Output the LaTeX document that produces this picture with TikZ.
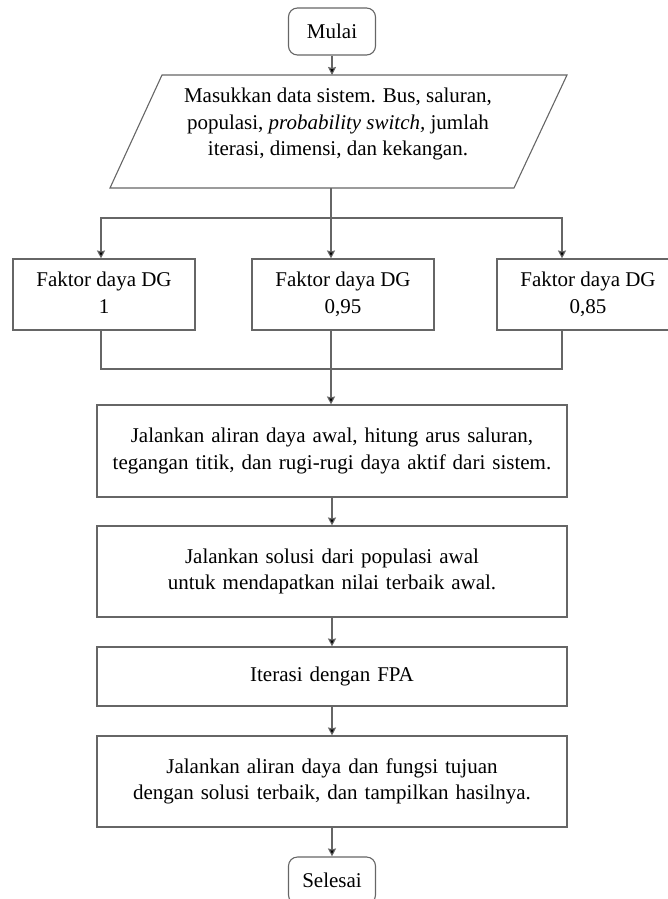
\documentclass[tikz,border=0pt]{standalone}
\usepackage{fontspec}
\setmainfont{Liberation Serif}
\usetikzlibrary{positioning,arrows.meta}
\tikzset{
	garis/.style={draw=black!60, line width=1.1pt},
	panah/.style={garis, -{Stealth[length=8pt,width=8pt,inset=1pt,fill=black]}},
	kotak/.style={garis, minimum width=470, text width=460, align=center, inner sep=0pt, font=\fontsize{21}{26.7}\selectfont},
	faktor/.style={garis, minimum width=182, minimum height=71, align=center, inner sep=0pt, font=\fontsize{21}{26.7}\selectfont},
	terminal/.style={garis, rounded corners=9pt, minimum width=87, minimum height=47, inner sep=0pt, font=\fontsize{21}{24}\selectfont}
}
\begin{document}
\begin{tikzpicture}[x=1pt, y=-1pt]
		\useasboundingbox (0,0) rectangle (668,899);
		\clip (0,0) rectangle (668,899);
		% mulai
		\node[terminal] (mulai) at (332,31.5) {Mulai};
		% masukan data
		\draw[garis] (162,75) -- (567,75) -- (514,188) -- (110,188) -- cycle;
		\node[align=center, inner sep=0pt, font=\fontsize{21}{26.7}\selectfont] (masukan) at (338,124)
			{Masukkan data sistem. Bus, saluran,\\ populasi, \textit{probability switch,} jumlah\\ iterasi, dimensi, dan kekangan.};
		\coordinate (masukanAtas) at (332,75);
		\coordinate (masukanBawah) at (331,188);
		\coordinate (cabang) at (331,218);
		% faktor daya
		\node[faktor] (dg1) at (104,294.5) {Faktor daya DG\\ 1\vphantom{0,}};
		\node[faktor] (dg2) at (343,294.5) {Faktor daya DG\\ 0,95};
		\node[faktor] (dg3) at (588,294.5) {Faktor daya DG\\ 0,85};
		\coordinate (gabung) at (331,369);
		% langkah
		\node[kotak, minimum height=92] (aliran) at (332,451)
			{Jalankan aliran daya awal, hitung arus saluran,\\ tegangan titik, dan rugi-rugi daya aktif dari sistem.};
		\node[kotak, minimum height=91] (solusi) at (332,571.5)
			{Jalankan solusi dari populasi awal\\ untuk mendapatkan nilai terbaik awal.};
		\node[kotak, minimum height=59] (iterasi) at (332,676.5) {Iterasi dengan FPA};
		\node[kotak, minimum height=91] (hasil) at (332,781.5)
			{Jalankan aliran daya dan fungsi tujuan\\ dengan solusi terbaik, dan tampilkan hasilnya.};
		% selesai
		\node[terminal] (selesai) at (332,880.5) {Selesai};

		\draw[panah] (mulai) -- (masukanAtas);
		\draw[garis] (masukanBawah) -- (cabang);
		\draw[panah] (cabang) -| ([xshift=-3]dg1.north);
		\draw[panah] (cabang) -- (cabang |- dg2.north);
		\draw[panah] (cabang) -| ([xshift=-26]dg3.north);
		\draw[garis] ([xshift=-3]dg1.south) |- (gabung);
		\draw[garis] ([xshift=-26]dg3.south) |- (gabung);
		\draw[panah] (gabung |- dg2.south) -- (gabung |- aliran.north);
		\draw[panah] (aliran) -- (solusi);
		\draw[panah] (solusi) -- (iterasi);
		\draw[panah] (iterasi) -- (hasil);
		\draw[panah] (hasil) -- (selesai);
	\end{tikzpicture}
\end{document}
